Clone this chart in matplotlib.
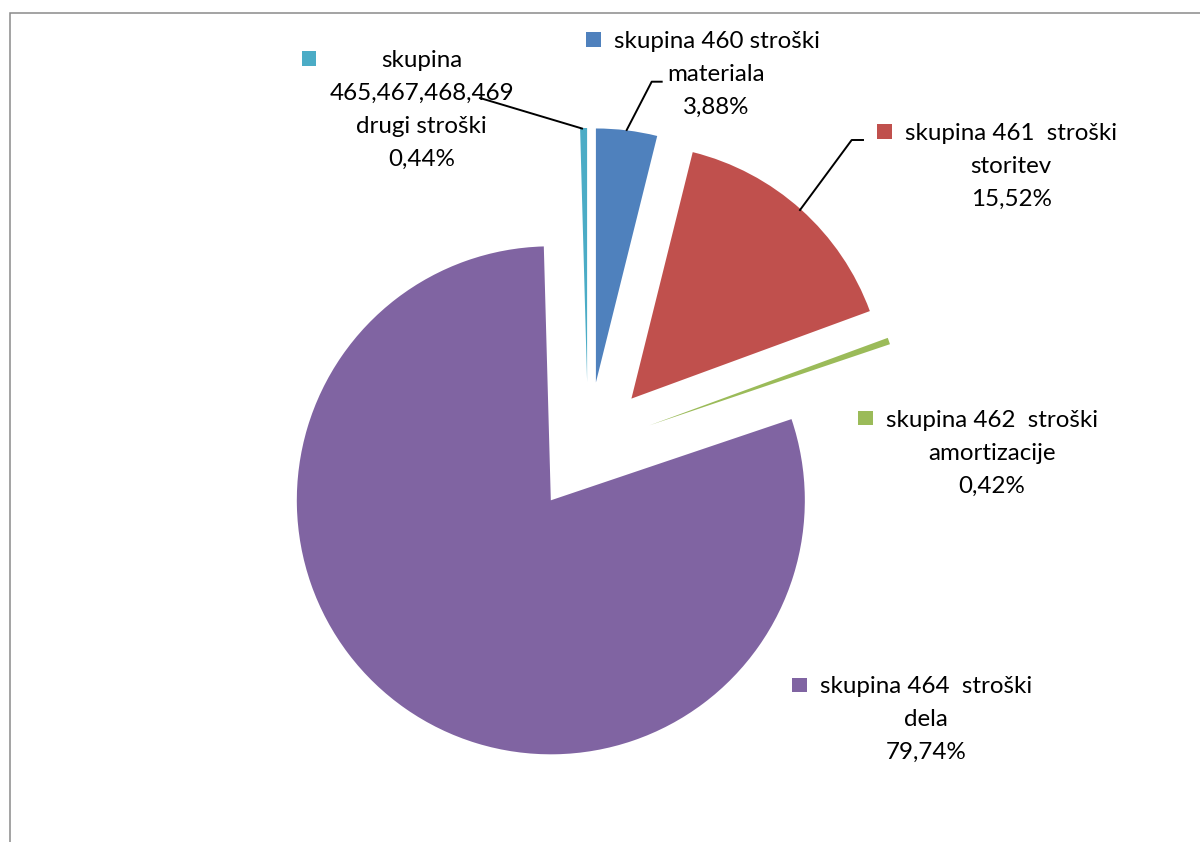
import matplotlib
matplotlib.use('Agg')
import matplotlib.pyplot as plt
from matplotlib.patches import Rectangle

# ---- data ----
categories = ['skupina 460 stroški materiala',
              'skupina 461  stroški storitev',
              'skupina 462  stroški amortizacije',
              'skupina 464  stroški dela',
              'skupina 465,467,468,469 drugi stroški']
shares = [3.88, 15.52, 0.42, 79.74, 0.44]
pct_labels = ['3,88%', '15,52%', '0,42%', '79,74%', '0,44%']
label_lines = [
    ['skupina 460 stroški', 'materiala'],
    ['skupina 461  stroški', 'storitev'],
    ['skupina 462  stroški', 'amortizacije'],
    ['skupina 464  stroški', 'dela'],
    ['skupina', '465,467,468,469', 'drugi stroški'],
]
colors = ['#4F81BD', '#C0504D', '#9BBB59', '#8064A2', '#4BACC6']

# ---- layout (pixel coordinates, y measured from top) ----
W, H = 1200, 842
FONT = ['Lato', 'DejaVu Sans']
fig = plt.figure(figsize=(W / 100, H / 100), dpi=100)
ax = fig.add_axes([0, 0, 1, 1])

def Y(y):
    return H - y

cx, cy, R, EXPL = 588, 447, 254, 65
ax.pie(shares, colors=colors, startangle=90, counterclock=False,
       radius=R, center=(cx, Y(cy)), explode=[EXPL] * len(shares),
       wedgeprops=dict(linewidth=0))
ax.set_xlim(0, W)
ax.set_ylim(0, H)
ax.axis('off')

# frame (left and top borders)
ax.plot([10, 10, W], [Y(H), Y(12.5), Y(12.5)], color='#8a8a8a', lw=1.1,
        solid_joinstyle='miter', clip_on=False)

renderer = fig.canvas.get_renderer()

# calibrate font size so reference line width ~206 px
probe = ax.text(0, 0, 'skupina 460 stroški', fontsize=20, family=FONT)
pw = probe.get_window_extent(renderer).width
probe.remove()
FS = 20 * 206.0 / pw

# label anchors: block centre x, baseline of first line
anchors = [(716.5, 48), (1011, 140), (992, 426.7), (926, 693.3), (421.5, 67)]
LS = 33
KEY = 14.5
GAP = 13

for i, (bx, by) in enumerate(anchors):
    lines = label_lines[i] + [pct_labels[i]]
    widths = []
    for j, s in enumerate(lines):
        t = ax.text(bx, Y(by + j * LS), s, fontsize=FS, family=FONT,
                    ha='center', va='baseline', color='black')
        widths.append(t.get_window_extent(renderer).width)
    left = bx - max(widths) / 2
    kx = left - GAP - KEY
    ky = by - 8.5
    ax.add_patch(Rectangle((kx, Y(ky + KEY / 2)), KEY, KEY,
                           facecolor=colors[i], edgecolor='none'))

# leader lines
leaders = [
    [(626.7, 130), (651.7, 81.7), (661.7, 81.7)],
    [(800, 210), (851.7, 140), (863, 140)],
    [(582, 128.5), (480, 98)],
]
for pts in leaders:
    ax.plot([p[0] for p in pts], [Y(p[1]) for p in pts], color='black', lw=1.4)

fig.savefig('out.png', dpi=100)
